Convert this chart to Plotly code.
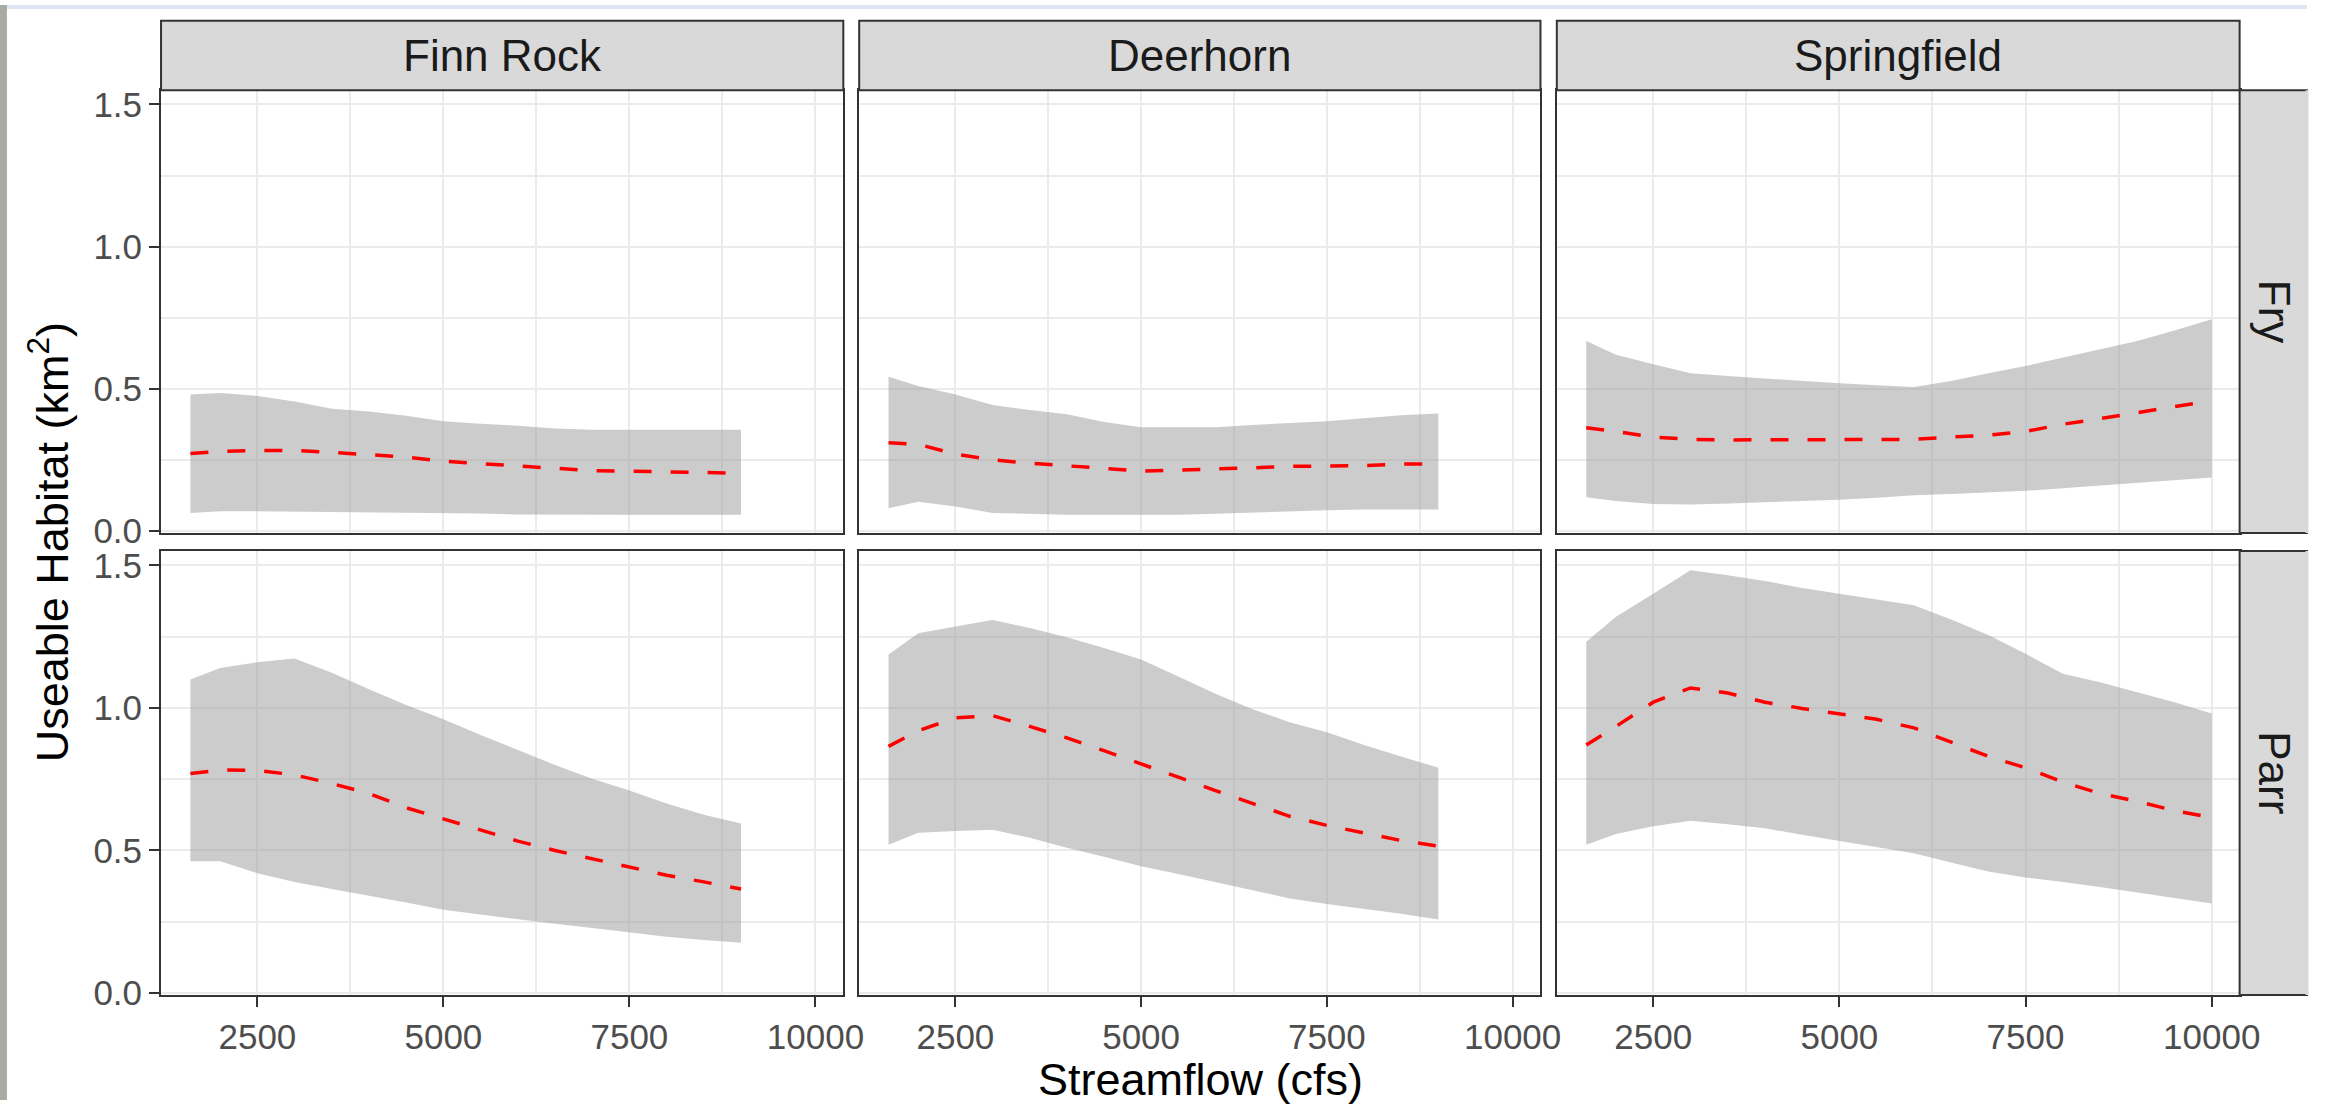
import plotly.graph_objects as go

# ---------------- data ----------------
sites = ["Finn Rock", "Deerhorn", "Springfield"]
stages = ["Fry", "Parr"]

flow_fr = [1600, 2000, 2500, 3000, 3500, 4000, 4500, 5000, 5500, 6000, 6500, 7000, 7500, 8000, 8500, 9000]
flow_dh = [1600, 2000, 2500, 3000, 3500, 4000, 4500, 5000, 5500, 6000, 6500, 7000, 7500, 8000, 8500, 9000]
flow_sp = [1600, 2000, 2500, 3000, 3500, 4000, 4500, 5000, 5500, 6000, 6500, 7000, 7500, 8000, 8500, 9000, 9500, 10000]

# Finn Rock - Fry
fr_fry_hi = [0.48, 0.485, 0.475, 0.455, 0.43, 0.42, 0.405, 0.386, 0.377, 0.37, 0.36, 0.356, 0.356, 0.356, 0.356, 0.356]
fr_fry_lo = [0.063, 0.069, 0.069, 0.068, 0.067, 0.064, 0.063, 0.062, 0.061, 0.058, 0.057, 0.057, 0.057, 0.057, 0.057, 0.057]
fr_fry_mean = [0.272, 0.28, 0.283, 0.283, 0.276, 0.268, 0.26, 0.245, 0.237, 0.228, 0.22, 0.212, 0.21, 0.207, 0.204, 0.203]
# Deerhorn - Fry
dh_fry_hi = [0.542, 0.51, 0.48, 0.443, 0.425, 0.41, 0.383, 0.365, 0.365, 0.365, 0.373, 0.379, 0.386, 0.396, 0.407, 0.413]
dh_fry_lo = [0.08, 0.103, 0.086, 0.063, 0.06, 0.057, 0.057, 0.057, 0.057, 0.06, 0.065, 0.07, 0.073, 0.075, 0.075, 0.075]
dh_fry_mean = [0.31, 0.305, 0.27, 0.25, 0.238, 0.23, 0.22, 0.21, 0.213, 0.218, 0.222, 0.227, 0.227, 0.23, 0.235, 0.236]
# Springfield - Fry
sp_fry_hi = [0.668, 0.62, 0.586, 0.555, 0.545, 0.536, 0.527, 0.519, 0.512, 0.506, 0.527, 0.555, 0.58, 0.61, 0.64, 0.668, 0.705, 0.745]
sp_fry_lo = [0.118, 0.105, 0.095, 0.093, 0.096, 0.1, 0.105, 0.11, 0.117, 0.125, 0.13, 0.136, 0.141, 0.15, 0.16, 0.17, 0.178, 0.188]
sp_fry_mean = [0.363, 0.35, 0.33, 0.322, 0.32, 0.32, 0.32, 0.32, 0.32, 0.322, 0.33, 0.337, 0.35, 0.375, 0.395, 0.415, 0.437, 0.458]
# Finn Rock - Parr
fr_parr_hi = [1.10, 1.14, 1.16, 1.173, 1.123, 1.065, 1.01, 0.96, 0.905, 0.853, 0.80, 0.752, 0.71, 0.665, 0.625, 0.595]
fr_parr_lo = [0.462, 0.462, 0.42, 0.39, 0.365, 0.342, 0.318, 0.292, 0.275, 0.258, 0.243, 0.228, 0.212, 0.198, 0.186, 0.177]
fr_parr_mean = [0.77, 0.782, 0.781, 0.765, 0.735, 0.70, 0.65, 0.61, 0.57, 0.533, 0.50, 0.47, 0.44, 0.413, 0.39, 0.365]
# Deerhorn - Parr
dh_parr_hi = [1.187, 1.262, 1.285, 1.308, 1.28, 1.248, 1.21, 1.17, 1.11, 1.05, 0.995, 0.95, 0.915, 0.87, 0.83, 0.79]
dh_parr_lo = [0.52, 0.562, 0.568, 0.573, 0.545, 0.51, 0.478, 0.445, 0.418, 0.39, 0.36, 0.332, 0.312, 0.295, 0.278, 0.258]
dh_parr_mean = [0.865, 0.92, 0.965, 0.973, 0.935, 0.895, 0.85, 0.805, 0.757, 0.71, 0.665, 0.62, 0.588, 0.56, 0.535, 0.515]
# Springfield - Parr
sp_parr_hi = [1.232, 1.32, 1.40, 1.483, 1.465, 1.445, 1.42, 1.40, 1.38, 1.36, 1.31, 1.256, 1.19, 1.12, 1.09, 1.055, 1.02, 0.98]
sp_parr_lo = [0.52, 0.558, 0.585, 0.604, 0.592, 0.578, 0.555, 0.533, 0.51, 0.49, 0.458, 0.426, 0.405, 0.39, 0.372, 0.352, 0.333, 0.314]
sp_parr_mean = [0.87, 0.935, 1.02, 1.07, 1.052, 1.02, 0.998, 0.98, 0.96, 0.93, 0.88, 0.83, 0.79, 0.74, 0.70, 0.672, 0.64, 0.615]

x_ticks = [2500, 5000, 7500, 10000]
x_tick_labels = ["2500", "5000", "7500", "10000"]
x_minor = [3750, 6250, 8750]
y_ticks = [0.0, 0.5, 1.0, 1.5]
y_tick_labels = ["0.0", "0.5", "1.0", "1.5"]
y_minor = [0.25, 0.75, 1.25]

x_title = "Streamflow (cfs)"
y_title = "Useable Habitat (km<sup>2</sup>)"

panels = {
    ("Fry", "Finn Rock"): (flow_fr, fr_fry_lo, fr_fry_hi, fr_fry_mean),
    ("Fry", "Deerhorn"): (flow_dh, dh_fry_lo, dh_fry_hi, dh_fry_mean),
    ("Fry", "Springfield"): (flow_sp, sp_fry_lo, sp_fry_hi, sp_fry_mean),
    ("Parr", "Finn Rock"): (flow_fr, fr_parr_lo, fr_parr_hi, fr_parr_mean),
    ("Parr", "Deerhorn"): (flow_dh, dh_parr_lo, dh_parr_hi, dh_parr_mean),
    ("Parr", "Springfield"): (flow_sp, sp_parr_lo, sp_parr_hi, sp_parr_mean),
}

# ---------------- layout geometry (pixels) ----------------
W, H = 2328, 1117
col_px = [(162.5, 851.0), (867.0, 1554.5), (1571.0, 2260.0)]
row_px = [(87.0, 538.5), (557.0, 1010.0)]
strip_top = 16.0

def px_x(p):
    return p / W

def px_y(p):
    return 1 - p / H

FONT = "Liberation Sans, Arial, Helvetica, sans-serif"
BORDER = "#333333"
GRID = "#EBEBEB"
STRIP_FILL = "#D9D9D9"

fig = go.Figure()
layout_axes = {}

for r, stage in enumerate(stages):
    for c, site in enumerate(sites):
        k = r * 3 + c + 1
        xa = "x" if k == 1 else f"x{k}"
        ya = "y" if k == 1 else f"y{k}"
        flow, lo, hi, mean = panels[(stage, site)]
        fig.add_trace(go.Scatter(x=flow, y=lo, mode="lines", line=dict(width=0, color="rgba(0,0,0,0)"),
                                 xaxis=xa, yaxis=ya, showlegend=False, hoverinfo="skip"))
        fig.add_trace(go.Scatter(x=flow, y=hi, mode="lines", line=dict(width=0, color="rgba(0,0,0,0)"),
                                 fill="tonexty", fillcolor="rgba(153,153,153,0.5)",
                                 xaxis=xa, yaxis=ya, showlegend=False, hoverinfo="skip"))
        fig.add_trace(go.Scatter(x=flow, y=mean, mode="lines",
                                 line=dict(color="#FF0000", width=3.5, dash="18px,19px"),
                                 xaxis=xa, yaxis=ya, showlegend=False))
        x0, x1 = col_px[c]
        y0, y1 = row_px[r]
        xkey = "xaxis" if k == 1 else f"xaxis{k}"
        ykey = "yaxis" if k == 1 else f"yaxis{k}"
        layout_axes[xkey] = dict(
            domain=[px_x(x0), px_x(x1)], anchor=ya, range=[1205, 10375],
            tickvals=x_ticks, ticktext=x_tick_labels,
            showticklabels=(r == 1), ticks="outside" if r == 1 else "",
            ticklen=10, tickwidth=2, tickcolor=BORDER,
            tickfont=dict(family=FONT, size=35, color="#4D4D4D"),
            showgrid=True, gridcolor=GRID, gridwidth=2,
            minor=dict(tickvals=x_minor, showgrid=True, gridcolor=GRID, gridwidth=1.5, ticks=""),
            showline=True, linecolor=BORDER, linewidth=2, mirror=True,
            zeroline=False, fixedrange=True,
        )
        layout_axes[ykey] = dict(
            domain=[px_y(y1), px_y(y0)], anchor=xa, range=[-0.007, 1.55],
            tickvals=y_ticks, ticktext=y_tick_labels,
            showticklabels=(c == 0), ticks="outside" if c == 0 else "",
            ticklen=10, tickwidth=2, tickcolor=BORDER,
            tickfont=dict(family=FONT, size=35, color="#4D4D4D"),
            showgrid=True, gridcolor=GRID, gridwidth=2,
            minor=dict(tickvals=y_minor, showgrid=True, gridcolor=GRID, gridwidth=1.5, ticks=""),
            showline=True, linecolor=BORDER, linewidth=2, mirror=True,
            zeroline=False, fixedrange=True,
        )

shapes = []
annotations = []
# screenshot frame bits (top band and left textured edge)
shapes.append(dict(type="rect", xref="paper", yref="paper", x0=0, x1=1, y0=px_y(4), y1=1,
                   fillcolor="#DDE7F1", line=dict(width=0), layer="below"))
shapes.append(dict(type="rect", xref="paper", yref="paper", x0=0, x1=px_x(7), y0=0, y1=1,
                   fillcolor="#A9ACA2", line=dict(width=0), layer="below"))

# top strips
for c, site in enumerate(sites):
    x0, x1 = col_px[c]
    shapes.append(dict(type="rect", xref="paper", yref="paper",
                       x0=px_x(x0), x1=px_x(x1), y0=px_y(row_px[0][0]), y1=px_y(strip_top),
                       fillcolor=STRIP_FILL, line=dict(color=BORDER, width=2)))
    annotations.append(dict(text=site, xref="paper", yref="paper",
                            x=px_x((x0 + x1) / 2), y=px_y((strip_top + row_px[0][0]) / 2),
                            xanchor="center", yanchor="middle", showarrow=False,
                            font=dict(family=FONT, size=44, color="#1A1A1A")))
# right strips (cut off by the image edge, as in the reference)
for r, stage in enumerate(stages):
    y0, y1 = row_px[r]
    shapes.append(dict(type="rect", xref="paper", yref="paper",
                       x0=px_x(col_px[2][1]), x1=1.0, y0=px_y(y1), y1=px_y(y0),
                       fillcolor=STRIP_FILL, line=dict(color=BORDER, width=2)))
    shapes.append(dict(type="line", xref="paper", yref="paper",
                       x0=1.0, x1=1.0, y0=px_y(y1), y1=px_y(y0),
                       line=dict(color=STRIP_FILL, width=3)))
    annotations.append(dict(text=stage, xref="paper", yref="paper",
                            x=px_x((col_px[2][1] + 2331) / 2), y=px_y((y0 + y1) / 2),
                            xanchor="center", yanchor="middle", showarrow=False, textangle=90,
                            font=dict(family=FONT, size=44, color="#1A1A1A")))

# axis titles
annotations.append(dict(text=x_title, xref="paper", yref="paper",
                        x=px_x((col_px[0][0] + col_px[2][1]) / 2), y=px_y(1096),
                        xanchor="center", yanchor="middle", showarrow=False,
                        font=dict(family=FONT, size=45, color="#000000")))
annotations.append(dict(text=y_title, xref="paper", yref="paper",
                        x=px_x(49), y=px_y((row_px[0][0] + row_px[1][1]) / 2),
                        xanchor="center", yanchor="middle", showarrow=False, textangle=-90,
                        font=dict(family=FONT, size=45, color="#000000")))

fig.update_layout(
    width=W, height=H,
    margin=dict(l=0, r=0, t=0, b=0, pad=0),
    paper_bgcolor="white", plot_bgcolor="white",
    showlegend=False,
    shapes=shapes, annotations=annotations,
    **layout_axes,
)

fig.write_html(
    "out.html",
    config={"displayModeBar": False},
    post_script="document.body.style.margin='0';document.body.style.overflow='hidden';",
)
